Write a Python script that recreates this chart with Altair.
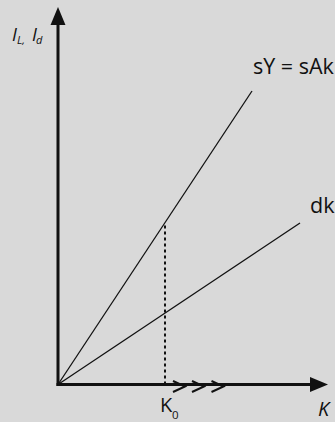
import altair as alt
import pandas as pd

# Solow-type diagram: saving curve sY = sAk against depreciation dk
k_axis_end = 2.70          # tip of the K axis arrow
i_axis_end = 3.775         # tip of the I axis arrow
arrow_len = 0.18           # length of an axis arrowhead

saving_k = [0.0, 1.94]
saving_i = [0.0, 2.935]
dep_k = [0.0, 2.42]
dep_i = [0.0, 1.615]
k0 = 1.07
chevron_k = [1.21, 1.40, 1.595]

saving_slope = saving_i[1] / saving_k[1]

W, H = 335, 422
ORIGIN_PX = (58, 384.5)
UNIT = 100.0
x_dom = [-ORIGIN_PX[0] / UNIT, (W - ORIGIN_PX[0]) / UNIT]
y_dom = [-(H - ORIGIN_PX[1]) / UNIT, ORIGIN_PX[1] / UNIT]

xs = alt.Scale(domain=x_dom, nice=False, zero=False)
ys = alt.Scale(domain=y_dom, nice=False, zero=False)


def X(field="k"):
    return alt.X(f"{field}:Q", scale=xs, axis=None)


def Y(field="i"):
    return alt.Y(f"{field}:Q", scale=ys, axis=None)


FONT = "Open Sans"
INK = "#111111"

# axes with arrowheads
axes_df = pd.DataFrame({
    "k": [-0.015, -0.0],
    "i": [0.0, -0.015],
    "k2": [k_axis_end - arrow_len + 0.01, 0.0],
    "i2": [0.0, i_axis_end - arrow_len + 0.01],
})
axes = alt.Chart(axes_df).mark_rule(color=INK, strokeWidth=3).encode(
    x=X(), y=Y(), x2="k2:Q", y2="i2:Q"
)

head_up = alt.Chart(pd.DataFrame({"k": [0.0], "i": [i_axis_end - arrow_len / 2]})).mark_point(
    shape="M0,-1L0.83,1L-0.83,1Z", size=324, filled=True, color=INK, opacity=1, strokeWidth=0
).encode(x=X(), y=Y())

head_right = alt.Chart(pd.DataFrame({"k": [k_axis_end - arrow_len / 2], "i": [0.0]})).mark_point(
    shape="M1,0L-1,0.83L-1,-0.83Z", size=324, filled=True, color=INK, opacity=1, strokeWidth=0
).encode(x=X(), y=Y())

# the two lines from the origin
lines_df = pd.DataFrame({
    "k": saving_k + dep_k,
    "i": saving_i + dep_i,
    "series": ["saving"] * 2 + ["dep"] * 2,
})
lines = alt.Chart(lines_df).mark_line(color=INK, strokeWidth=1.3).encode(
    x=X(), y=Y(), detail="series:N"
)

# dotted drop line at K0
drop = alt.Chart(pd.DataFrame({"k": [k0], "i": [0.0], "i2": [saving_slope * k0]})).mark_rule(
    color=INK, strokeWidth=2, strokeDash=[3, 3]
).encode(x=X(), y=Y(), y2="i2:Q")

# chevrons showing the direction of k
chev = alt.Chart(pd.DataFrame({"k": chevron_k, "i": [-0.02] * 3})).mark_point(
    shape="M-1,-0.92L1,0L-1,0.92", size=144, filled=False, color=INK, opacity=1, strokeWidth=2
).encode(x=X(), y=Y())


def label(k, i, text, dx, dy, size=19, style="normal"):
    return alt.Chart(pd.DataFrame({"k": [k], "i": [i], "t": [text]})).mark_text(
        align="left", baseline="alphabetic", dx=dx, dy=dy, font=FONT,
        fontSize=size, fontStyle=style, color=INK
    ).encode(x=X(), y=Y(), text="t:N")


labels = [
    label(saving_k[1], saving_i[1], "sY = sAk", 1, -17, size=21.5),
    label(dep_k[1], dep_i[1], "dk", 10, -10, size=21.5),
    label(k0, 0.0, "K", -5, 27.5, size=20),
    label(k0, 0.0, "0", 7, 34, size=11.5),
    label(k_axis_end, 0.0, "K", -10, 31.5, size=20, style="italic"),
    label(0.0, i_axis_end, "I", -46, 34, size=18, style="italic"),
    label(0.0, i_axis_end, "L,", -41, 37, size=11, style="italic"),
    label(0.0, i_axis_end, "I", -26, 34, size=18, style="italic"),
    label(0.0, i_axis_end, "d", -22, 37, size=11, style="italic"),
]

chart = alt.layer(axes, head_up, head_right, lines, drop, chev, *labels).properties(
    width=W, height=H, background="#d9d9d9", padding=0,
    autosize=alt.AutoSizeParams(type="none"),
).configure_view(stroke=None)

chart.save("out.html", embed_options={"renderer": "svg", "actions": False})
